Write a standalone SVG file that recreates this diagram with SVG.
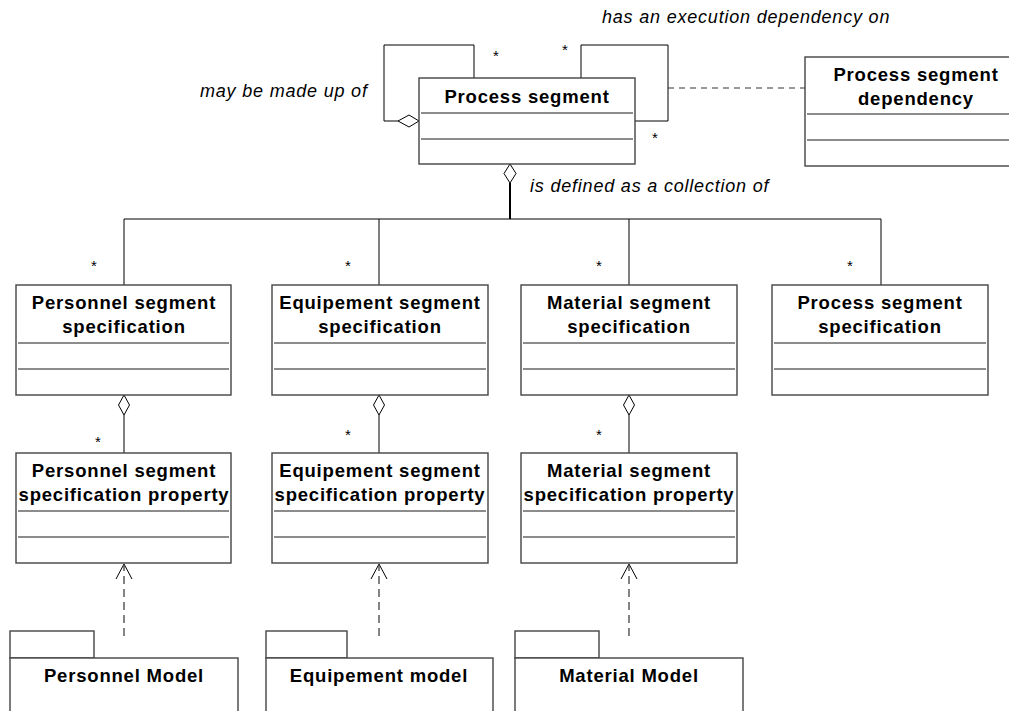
<svg xmlns="http://www.w3.org/2000/svg" width="1009" height="711" viewBox="0 0 1009 711">
<style>
.box{fill:#fff;stroke:#444;stroke-width:1.4}
.sep{stroke:#666;stroke-width:1.4}
.ln{fill:none;stroke:#000;stroke-width:1}
.dash{fill:none;stroke:#333;stroke-width:1.2;stroke-dasharray:8 5}
.t{font-family:"Liberation Sans",Arial,sans-serif;font-size:18.5px;font-weight:bold;letter-spacing:0.8px;text-anchor:middle;fill:#000}
.it{font-family:"Liberation Sans",Arial,sans-serif;font-size:18px;font-style:italic;letter-spacing:0.8px;fill:#000}
.st{font-family:"Liberation Sans",Arial,sans-serif;font-size:15px;text-anchor:middle;fill:#000}
.dia{fill:#fff;stroke:#000;stroke-width:1}
</style>

<g id="connectors">
<!-- self aggregation loop -->
<polyline class="ln" points="474,78 474,45 384,45 384,121 398,121"/>
<polygon class="dia" points="398,121 409,115 419,121 409,127"/>
<!-- execution dependency loop -->
<polyline class="ln" points="581,78 581,45 668,45 668,121 635,121"/>
<line class="dash" x1="668" y1="88" x2="805" y2="88" style="stroke-dasharray:6 5"/>
<!-- collection -->
<polygon class="dia" points="510,164 516,173.5 510,183 504,173.5"/>
<line x1="510" y1="183" x2="510" y2="219" stroke="#000" stroke-width="2"/>
<polyline class="ln" points="124,285 124,219 881,219 881,285"/>
<line class="ln" x1="379" y1="219" x2="379" y2="285"/>
<line class="ln" x1="629" y1="219" x2="629" y2="285"/>
<!-- spec to property aggregations -->
<polygon class="dia" points="124,395 129.5,405 124,415 118.5,405"/>
<line class="ln" x1="124" y1="415" x2="124" y2="453"/>
<polygon class="dia" points="379,395 384.5,405 379,415 373.5,405"/>
<line class="ln" x1="379" y1="415" x2="379" y2="453"/>
<polygon class="dia" points="629,395 634.5,405 629,415 623.5,405"/>
<line class="ln" x1="629" y1="415" x2="629" y2="453"/>
<!-- dependencies from models -->
<line class="dash" x1="124" y1="636" x2="124" y2="566"/>
<polyline class="ln" points="116,579 124,564 132,579" stroke-width="1.3"/>
<line class="dash" x1="379" y1="636" x2="379" y2="566"/>
<polyline class="ln" points="371,579 379,564 387,579" stroke-width="1.3"/>
<line class="dash" x1="629" y1="636" x2="629" y2="566"/>
<polyline class="ln" points="621,579 629,564 637,579" stroke-width="1.3"/>
<!-- labels -->
<text class="it" x="602" y="23">has an execution dependency on</text>
<text class="it" x="200" y="97">may be made up of</text>
<text class="it" x="530" y="192">is defined as a collection of</text>
<text class="st" x="496" y="61">*</text>
<text class="st" x="565" y="55">*</text>
<text class="st" x="655" y="143">*</text>
<text class="st" x="94" y="271">*</text>
<text class="st" x="348" y="271">*</text>
<text class="st" x="599" y="271">*</text>
<text class="st" x="850" y="271">*</text>
<text class="st" x="98" y="447">*</text>
<text class="st" x="348" y="440">*</text>
<text class="st" x="599" y="440">*</text>
</g>

<g id="process-segment">
<rect class="box" x="419" y="78" width="216" height="86"/>
<line class="sep" x1="421" y1="113" x2="633" y2="113"/>
<line class="sep" x1="421" y1="139" x2="633" y2="139"/>
<text class="t" x="527" y="103">Process segment</text>
</g>

<g id="process-segment-dependency">
<rect class="box" x="805" y="57" width="220" height="109"/>
<line class="sep" x1="807" y1="114" x2="1009" y2="114"/>
<line class="sep" x1="807" y1="140" x2="1009" y2="140"/>
<text class="t" x="916" y="81">Process segment</text>
<text class="t" x="916" y="105">dependency</text>
</g>

<g id="personnel-segment-specification">
<rect class="box" x="16" y="285" width="215" height="110"/>
<line class="sep" x1="18" y1="343" x2="229" y2="343"/>
<line class="sep" x1="18" y1="369" x2="229" y2="369"/>
<text class="t" x="124" y="309">Personnel segment</text>
<text class="t" x="124" y="333">specification</text>
</g>

<g id="equipement-segment-specification">
<rect class="box" x="272" y="285" width="216" height="110"/>
<line class="sep" x1="274" y1="343" x2="486" y2="343"/>
<line class="sep" x1="274" y1="369" x2="486" y2="369"/>
<text class="t" x="380" y="309">Equipement segment</text>
<text class="t" x="380" y="333">specification</text>
</g>

<g id="material-segment-specification">
<rect class="box" x="521" y="285" width="216" height="110"/>
<line class="sep" x1="523" y1="343" x2="735" y2="343"/>
<line class="sep" x1="523" y1="369" x2="735" y2="369"/>
<text class="t" x="629" y="309">Material segment</text>
<text class="t" x="629" y="333">specification</text>
</g>

<g id="process-segment-specification">
<rect class="box" x="772" y="285" width="216" height="110"/>
<line class="sep" x1="774" y1="343" x2="986" y2="343"/>
<line class="sep" x1="774" y1="369" x2="986" y2="369"/>
<text class="t" x="880" y="309">Process segment</text>
<text class="t" x="880" y="333">specification</text>
</g>

<g id="personnel-segment-specification-property">
<rect class="box" x="16" y="453" width="215" height="110"/>
<line class="sep" x1="18" y1="511" x2="229" y2="511"/>
<line class="sep" x1="18" y1="537" x2="229" y2="537"/>
<text class="t" x="124" y="477">Personnel segment</text>
<text class="t" x="124" y="501">specification property</text>
</g>

<g id="equipement-segment-specification-property">
<rect class="box" x="272" y="453" width="216" height="110"/>
<line class="sep" x1="274" y1="511" x2="486" y2="511"/>
<line class="sep" x1="274" y1="537" x2="486" y2="537"/>
<text class="t" x="380" y="477">Equipement segment</text>
<text class="t" x="380" y="501">specification property</text>
</g>

<g id="material-segment-specification-property">
<rect class="box" x="521" y="453" width="216" height="110"/>
<line class="sep" x1="523" y1="511" x2="735" y2="511"/>
<line class="sep" x1="523" y1="537" x2="735" y2="537"/>
<text class="t" x="629" y="477">Material segment</text>
<text class="t" x="629" y="501">specification property</text>
</g>

<g id="personnel-model">
<rect class="box" x="10" y="631" width="84" height="27"/>
<rect class="box" x="10" y="658" width="228" height="70"/>
<text class="t" x="124" y="682">Personnel Model</text>
</g>

<g id="equipement-model">
<rect class="box" x="266" y="631" width="81" height="27"/>
<rect class="box" x="266" y="658" width="227" height="70"/>
<text class="t" x="379" y="682">Equipement model</text>
</g>

<g id="material-model">
<rect class="box" x="515" y="631" width="84" height="27"/>
<rect class="box" x="515" y="658" width="228" height="70"/>
<text class="t" x="629" y="682">Material Model</text>
</g>
</svg>
